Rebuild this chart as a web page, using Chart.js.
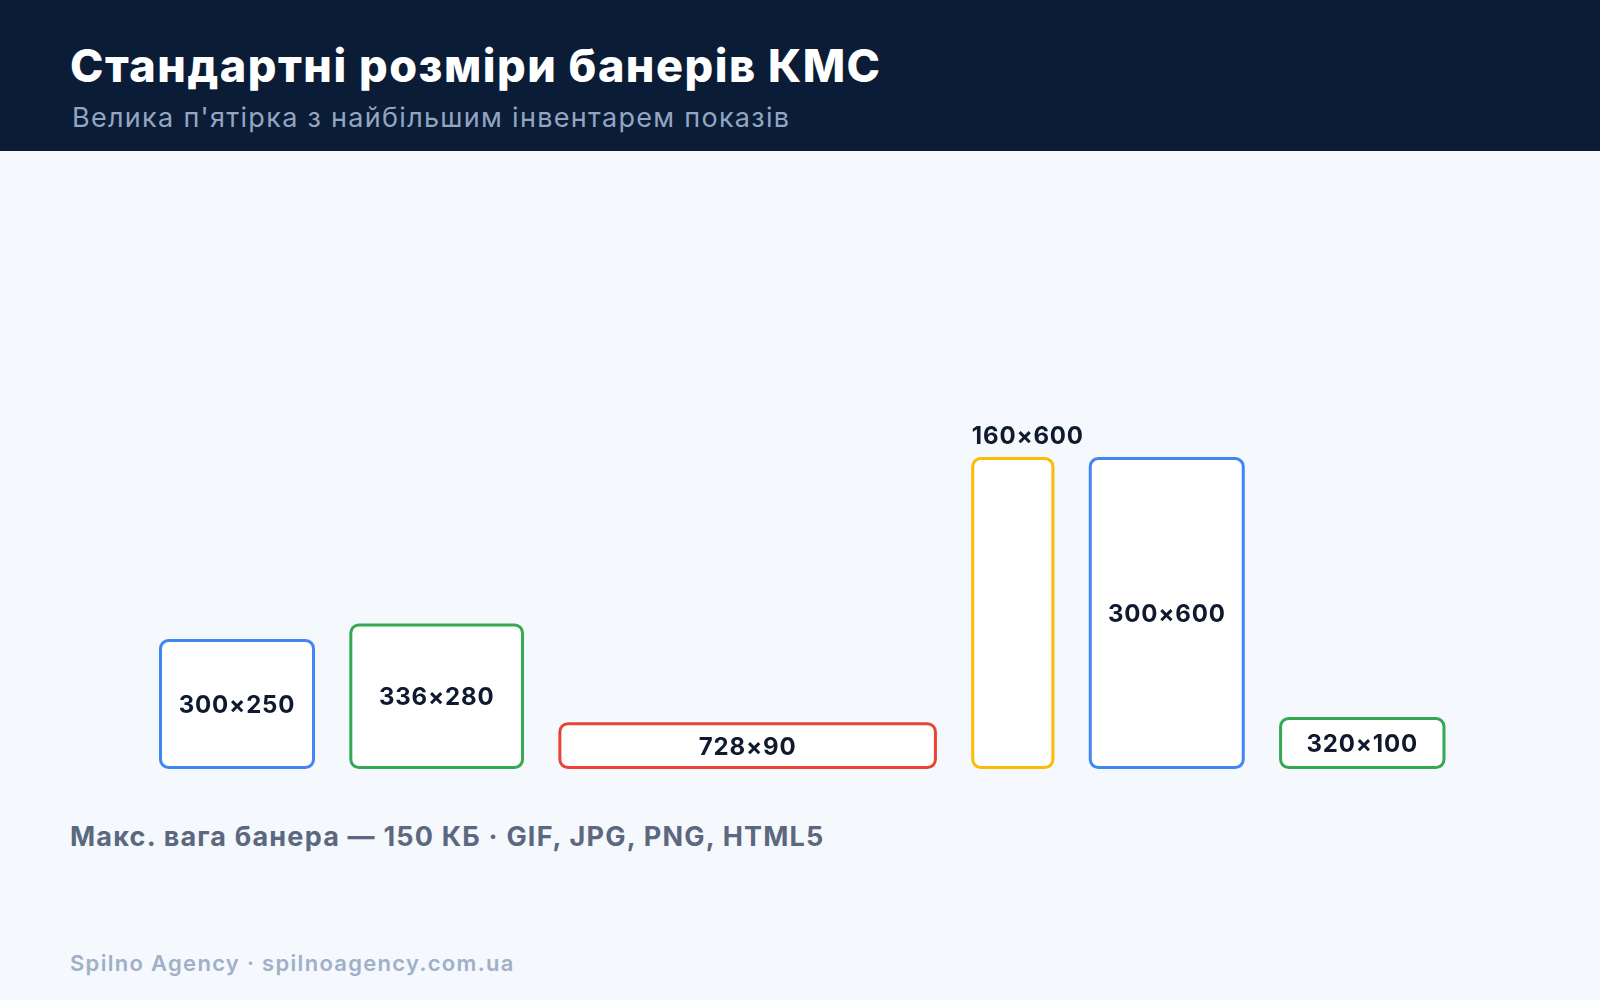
<!DOCTYPE html>
<html lang="uk">
<head>
<meta charset="utf-8">
<script src="https://cdn.jsdelivr.net/npm/chart.js@4.4.1/dist/chart.umd.min.js"></script>
<style>
  html, body { margin: 0; padding: 0; }
  body { width: 1600px; height: 1000px; background: #f5f8fc; font-family: "Inter", "Open Sans", sans-serif; position: relative; overflow: hidden; }
  header { position: absolute; left: 0; top: 0; width: 1600px; height: 151px; background: #0b1d36; }
  h1 { position: absolute; left: 70px; top: 38px; margin: 0; color: #fff; font-size: 45px; font-weight: 800; letter-spacing: 1.5px; }
  .sub { position: absolute; left: 72px; top: 101px; color: #93a5c2; font-size: 27px; letter-spacing: 1.3px; }
  #wrap { position: absolute; left: 0; top: 151px; width: 1600px; height: 618px; }
  .note { position: absolute; left: 70px; top: 820px; color: #5b6880; font-size: 27px; font-weight: 700; letter-spacing: 1.2px; }
  .foot { position: absolute; left: 70px; top: 950px; color: #9fb0c8; font-size: 22px; font-weight: 600; letter-spacing: 1.3px; }
</style>
</head>
<body>
<header>
  <h1>Стандартні розміри банерів КМС</h1>
  <div class="sub">Велика п'ятірка з найбільшим інвентарем показів</div>
</header>
<div id="wrap"><canvas id="chart"></canvas></div>
<div class="note">Макс. вага банера — 150 КБ · GIF, JPG, PNG, HTML5</div>
<div class="foot">Spilno Agency · spilnoagency.com.ua</div>
<script>
const labels = ["300×250", "336×280", "728×90", "160×600", "300×600", "320×100"];
const widths = [300, 336, 728, 160, 300, 320];
const heights = [250, 280, 90, 600, 600, 100];
const colors = ["#4285f4", "#34a853", "#ea4335", "#fbbc04", "#4285f4", "#34a853"];
const gap = 66;

const starts = [];
let cursor = 0;
widths.forEach((w) => { starts.push(cursor); cursor += w + gap; });

const pxPerUnit = 0.52;

const bannerPlugin = {
  id: "banners",
  afterDatasetsDraw(chart) {
    const { ctx, scales: { x, y } } = chart;
    labels.forEach((label, i) => {
      const left = x.getPixelForValue(starts[i]);
      const right = x.getPixelForValue(starts[i] + widths[i]);
      const top = y.getPixelForValue(heights[i]);
      const bottom = y.getPixelForValue(0);
      ctx.save();
      ctx.beginPath();
      ctx.roundRect(left + 1.5, top + 1.5, right - left - 3, bottom - top - 3, 8);
      ctx.fillStyle = "#ffffff";
      ctx.fill();
      ctx.lineWidth = 3;
      ctx.strokeStyle = colors[i];
      ctx.stroke();
      ctx.fillStyle = "#0f1a2e";
      ctx.font = "700 24px Inter, 'Open Sans', sans-serif";
      ctx.letterSpacing = "0.8px";
      ctx.textAlign = "center";
      ctx.textBaseline = "middle";
      const textW = ctx.measureText(label).width;
      if (textW > right - left - 10) {
        ctx.fillText(label, (left + right) / 2 + 15, top - 20);
      } else {
        ctx.fillText(label, (left + right) / 2, (top + bottom) / 2 + 2);
      }
      ctx.restore();
    });
  },
};

new Chart(document.getElementById("chart"), {
  type: "scatter",
  data: { datasets: [{ data: [] }] },
  options: {
    responsive: true,
    maintainAspectRatio: false,
    animation: false,
    layout: { padding: 0 },
    plugins: { legend: { display: false }, tooltip: { enabled: false } },
    scales: {
      x: { display: false, min: -159 / pxPerUnit, max: (1600 - 159) / pxPerUnit },
      y: { display: false, min: 0, max: 618 / pxPerUnit },
    },
  },
  plugins: [bannerPlugin],
});
</script>
</body>
</html>
